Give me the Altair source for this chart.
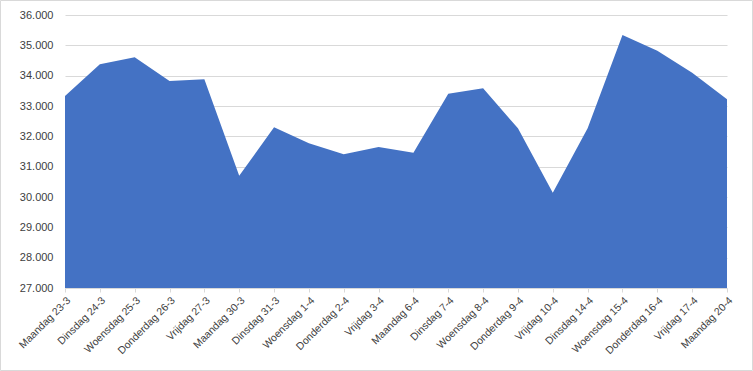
import altair as alt
import pandas as pd

dagen = ["Maandag 23-3", "Dinsdag 24-3", "Woensdag 25-3", "Donderdag 26-3", "Vrijdag 27-3",
         "Maandag 30-3", "Dinsdag 31-3", "Woensdag 1-4", "Donderdag 2-4", "Vrijdag 3-4",
         "Maandag 6-4", "Dinsdag 7-4", "Woensdag 8-4", "Donderdag 9-4", "Vrijdag 10-4",
         "Dinsdag 14-4", "Woensdag 15-4", "Donderdag 16-4", "Vrijdag 17-4", "Maandag 20-4"]
waarden = [33330, 34374, 34604, 33824, 33880,
           30703, 32297, 31769, 31406, 31648,
           31461, 33406, 33582, 32263, 30142,
           32263, 35341, 34824, 34099, 33219]
y_ticks = [27000, 28000, 29000, 30000, 31000, 32000, 33000, 34000, 35000, 36000]

df = pd.DataFrame({"dag": dagen, "waarde": waarden})

FONT = "Liberation Sans"
GREY = "#404040"

area = alt.Chart(df).mark_area(color="#4472C4", opacity=1).encode(
    x=alt.X("dag:N", sort=None, scale=alt.Scale(type="point", padding=0),
            axis=alt.Axis(title=None, labelAngle=-45, labelFont=FONT, labelFontSize=10.5,
                          labelColor=GREY, domainColor="#d9d9d9", tickColor="#d9d9d9",
                          tickSize=4, grid=False, labelPadding=3)),
    y=alt.Y("waarde:Q", scale=alt.Scale(domain=[27000, 36000], zero=False, nice=False),
            axis=alt.Axis(title=None, values=y_ticks, domain=False, ticks=False,
                          labelFont=FONT, labelFontSize=11, labelColor=GREY,
                          labelPadding=12, gridColor="#d9d9d9", gridWidth=1,
                          labelExpr="replace(format(datum.value, ',.0f'), ',', '.')")),
    y2=alt.datum(27000),
)

frame = alt.Chart(pd.DataFrame({"k": [0]})).mark_rect(
    fill=None, stroke="#d9d9d9", strokeWidth=1, clip=False
).encode(
    x=alt.value(-64.5), x2=alt.value(687.5), y=alt.value(-14.5), y2=alt.value(355.5)
)

chart = alt.layer(area, frame).properties(
    width=662, height=273,
    padding={"left": 65, "top": 15, "right": 26, "bottom": 83},
    autosize=alt.AutoSizeParams(type="none"),
    background="white",
).configure_view(stroke=None)

chart.save("out.html", embed_options={"renderer": "svg", "actions": False})
